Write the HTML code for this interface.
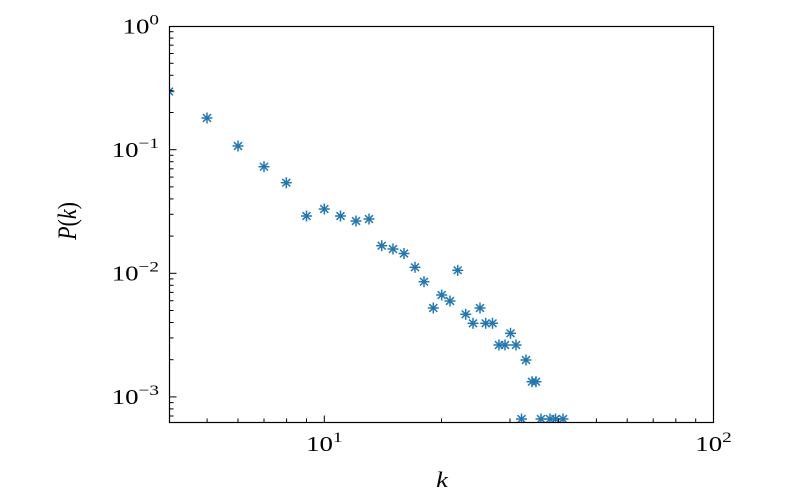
<!DOCTYPE html>
<html>
<head>
<meta charset="utf-8">
<style>
  html, body { margin: 0; padding: 0; background: #ffffff; }
  svg { display: block; }
  text { font-family: "Liberation Serif", "DejaVu Serif", serif; fill: #000; }
</style>
</head>
<body>
<svg width="792" height="500" viewBox="0 0 792 500" xmlns="http://www.w3.org/2000/svg">
  <defs>
    <clipPath id="plot">
      <rect x="169.5" y="26.5" width="544" height="396"/>
    </clipPath>
    <g id="m" stroke="#1f77b4" stroke-width="1.5" fill="none">
      <line x1="-5.5" y1="0" x2="5.5" y2="0"/>
      <line x1="0" y1="-5.5" x2="0" y2="5.5"/>
      <line x1="-4" y1="-3.8" x2="4" y2="3.8"/>
      <line x1="-4" y1="3.8" x2="4" y2="-3.8"/>
    </g>
  </defs>
  <rect width="792" height="500" fill="#fff"/>

  <g clip-path="url(#plot)">
    <use href="#m" x="169" y="91.5"/>
    <use href="#m" x="207" y="118"/>
    <use href="#m" x="238" y="146"/>
    <use href="#m" x="264" y="166.7"/>
    <use href="#m" x="286.3" y="182.7"/>
    <use href="#m" x="306.5" y="216"/>
    <use href="#m" x="324.3" y="209"/>
    <use href="#m" x="340.5" y="216"/>
    <use href="#m" x="356" y="221"/>
    <use href="#m" x="369" y="219"/>
    <use href="#m" x="381.7" y="245.7"/>
    <use href="#m" x="393" y="249"/>
    <use href="#m" x="404" y="253.5"/>
    <use href="#m" x="415" y="267.3"/>
    <use href="#m" x="424" y="281.7"/>
    <use href="#m" x="433.3" y="308"/>
    <use href="#m" x="441.7" y="295"/>
    <use href="#m" x="450" y="301"/>
    <use href="#m" x="457.7" y="270.3"/>
    <use href="#m" x="465.7" y="314.3"/>
    <use href="#m" x="473" y="323.3"/>
    <use href="#m" x="480" y="308"/>
    <use href="#m" x="485.7" y="323.3"/>
    <use href="#m" x="492.5" y="323.3"/>
    <use href="#m" x="499" y="345"/>
    <use href="#m" x="505" y="345"/>
    <use href="#m" x="510.5" y="333.3"/>
    <use href="#m" x="516" y="345"/>
    <use href="#m" x="526" y="360"/>
    <use href="#m" x="532" y="381.7"/>
    <use href="#m" x="536" y="381.7"/>
    <use href="#m" x="521.5" y="419"/>
    <use href="#m" x="541" y="419"/>
    <use href="#m" x="550" y="419"/>
    <use href="#m" x="555.5" y="419"/>
    <use href="#m" x="563" y="419"/>
  </g>

  <g stroke="#000" stroke-width="1">
    <line x1="169.5" y1="149.7" x2="176.5" y2="149.7"/>
    <line x1="169.5" y1="273.3" x2="176.5" y2="273.3"/>
    <line x1="169.5" y1="396.9" x2="176.5" y2="396.9"/>
    <line x1="169.5" y1="112.5" x2="173.5" y2="112.5"/>
    <line x1="169.5" y1="90.7" x2="173.5" y2="90.7"/>
    <line x1="169.5" y1="75.3" x2="173.5" y2="75.3"/>
    <line x1="169.5" y1="63.3" x2="173.5" y2="63.3"/>
    <line x1="169.5" y1="53.5" x2="173.5" y2="53.5"/>
    <line x1="169.5" y1="45.2" x2="173.5" y2="45.2"/>
    <line x1="169.5" y1="38.1" x2="173.5" y2="38.1"/>
    <line x1="169.5" y1="31.7" x2="173.5" y2="31.7"/>
    <line x1="169.5" y1="236.1" x2="173.5" y2="236.1"/>
    <line x1="169.5" y1="214.3" x2="173.5" y2="214.3"/>
    <line x1="169.5" y1="198.9" x2="173.5" y2="198.9"/>
    <line x1="169.5" y1="186.9" x2="173.5" y2="186.9"/>
    <line x1="169.5" y1="177.1" x2="173.5" y2="177.1"/>
    <line x1="169.5" y1="168.8" x2="173.5" y2="168.8"/>
    <line x1="169.5" y1="161.7" x2="173.5" y2="161.7"/>
    <line x1="169.5" y1="155.3" x2="173.5" y2="155.3"/>
    <line x1="169.5" y1="359.7" x2="173.5" y2="359.7"/>
    <line x1="169.5" y1="337.9" x2="173.5" y2="337.9"/>
    <line x1="169.5" y1="322.5" x2="173.5" y2="322.5"/>
    <line x1="169.5" y1="310.5" x2="173.5" y2="310.5"/>
    <line x1="169.5" y1="300.7" x2="173.5" y2="300.7"/>
    <line x1="169.5" y1="292.4" x2="173.5" y2="292.4"/>
    <line x1="169.5" y1="285.3" x2="173.5" y2="285.3"/>
    <line x1="169.5" y1="278.9" x2="173.5" y2="278.9"/>
    <line x1="169.5" y1="402.6" x2="173.5" y2="402.6"/>
    <line x1="169.5" y1="408.9" x2="173.5" y2="408.9"/>
    <line x1="169.5" y1="416.0" x2="173.5" y2="416.0"/>
    <line x1="324.3" y1="422.5" x2="324.3" y2="415.5"/>
    <line x1="207.1" y1="422.5" x2="207.1" y2="418.5"/>
    <line x1="238.0" y1="422.5" x2="238.0" y2="418.5"/>
    <line x1="264.0" y1="422.5" x2="264.0" y2="418.5"/>
    <line x1="286.6" y1="422.5" x2="286.6" y2="418.5"/>
    <line x1="306.5" y1="422.5" x2="306.5" y2="418.5"/>
    <line x1="441.5" y1="422.5" x2="441.5" y2="418.5"/>
    <line x1="510.0" y1="422.5" x2="510.0" y2="418.5"/>
    <line x1="558.6" y1="422.5" x2="558.6" y2="418.5"/>
    <line x1="596.4" y1="422.5" x2="596.4" y2="418.5"/>
    <line x1="627.2" y1="422.5" x2="627.2" y2="418.5"/>
    <line x1="653.2" y1="422.5" x2="653.2" y2="418.5"/>
    <line x1="675.8" y1="422.5" x2="675.8" y2="418.5"/>
    <line x1="695.7" y1="422.5" x2="695.7" y2="418.5"/>
  </g>

  <rect x="169.5" y="26.5" width="544" height="396" fill="none" stroke="#000" stroke-width="1.2"/>

  <g transform="translate(159,33.5) scale(1.28,1)">
    <text text-anchor="end" font-size="21">10<tspan dy="-9" font-size="15">0</tspan></text>
  </g>
  <g transform="translate(159,157) scale(1.28,1)">
    <text text-anchor="end" font-size="21">10<tspan dy="-9" font-size="15">−1</tspan></text>
  </g>
  <g transform="translate(159,280.6) scale(1.28,1)">
    <text text-anchor="end" font-size="21">10<tspan dy="-9" font-size="15">−2</tspan></text>
  </g>
  <g transform="translate(159,404.2) scale(1.28,1)">
    <text text-anchor="end" font-size="21">10<tspan dy="-9" font-size="15">−3</tspan></text>
  </g>

  <g transform="translate(324.3,451) scale(1.28,1)">
    <text text-anchor="middle" font-size="21">10<tspan dy="-9" font-size="15">1</tspan></text>
  </g>
  <g transform="translate(713.5,451) scale(1.28,1)">
    <text text-anchor="middle" font-size="21">10<tspan dy="-9" font-size="15">2</tspan></text>
  </g>

  <g transform="translate(442,487) scale(1.2,1)">
    <text text-anchor="middle" font-size="22" font-style="italic">k</text>
  </g>
  <g transform="translate(76,221) scale(1.2,1) rotate(-90)">
    <text text-anchor="middle" font-size="22"><tspan font-style="italic">P</tspan>(<tspan font-style="italic">k</tspan>)</text>
  </g>
</svg>
</body>
</html>
